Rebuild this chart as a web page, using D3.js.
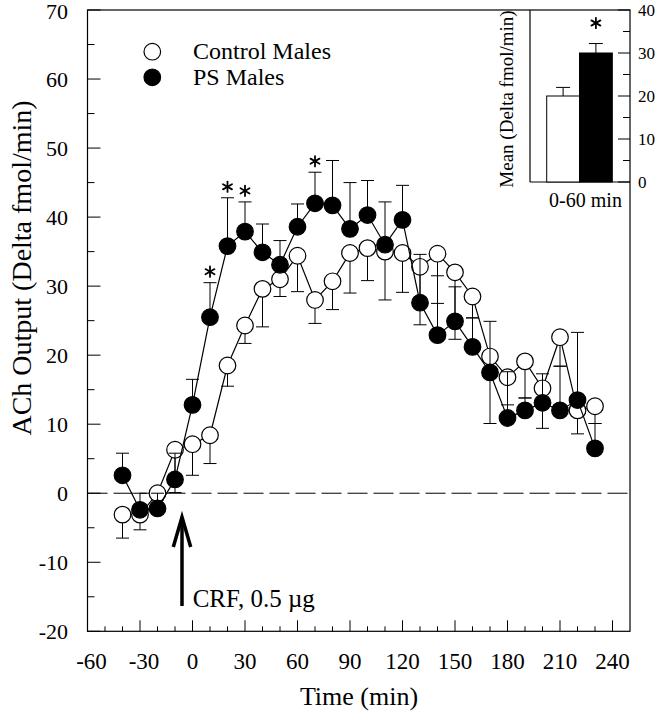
<!DOCTYPE html>
<html><head><meta charset="utf-8">
<script src="https://cdn.jsdelivr.net/npm/d3@7"></script>
<style>
html,body{margin:0;padding:0;background:#fff;}
svg text{font-family:"Liberation Serif","Times New Roman",serif;fill:#000;}
</style></head>
<body><svg id="c" width="658" height="720"></svg>
<script>
// ---- data ----
const times = [-40,-30,-20,-10,0,10,20,30,40,50,60,70,80,90,100,110,120,130,140,150,160,170,180,190,200,210,220,230];
const controlMean = [-3.1,-3.1,0.0,6.3,7.1,8.4,18.5,24.3,29.6,31.0,34.4,28.0,30.7,34.8,35.5,35.0,34.8,32.8,34.7,32.0,28.5,19.8,16.8,19.1,15.2,22.6,12.0,12.6];
const controlErr  = [3.4,2.2,1.0,6.2,4.5,4.1,3.0,2.6,5.5,2.5,5.2,3.4,4.1,5.8,4.7,7.0,5.7,8.4,7.2,9.7,3.1,9.7,4.0,5.3,5.8,4.2,3.4,2.5];
const psMean = [2.6,-2.4,-2.2,2.0,12.8,25.5,35.8,37.9,34.9,33.1,38.6,42.0,41.7,38.3,40.3,36.0,39.6,27.6,22.9,24.9,21.2,17.5,10.9,12.0,13.1,12.0,13.5,6.5];
const psErr  = [3.2,2.4,2.2,3.8,3.7,5.0,7.0,4.3,4.1,3.5,3.3,4.5,6.5,6.7,5.0,6.2,5.0,7.0,8.6,5.0,4.2,7.4,6.7,1.8,4.2,6.4,9.8,3.6];
const sigTimes = [10,20,30,70];
const seriesNames = ["Control Males","PS Males"];
const xTickLabels = [-60,-30,0,30,60,90,120,150,180,210,240];
const yTickLabels = [-20,-10,0,10,20,30,40,50,60,70];
const insetGroups = ["Control","PS"];
const insetMeans = [20,30];
const insetErrs = [2.0,2.2];
const insetTickLabels = [0,10,20,30,40];
const crfTime = -6;

const svg = d3.select("#c");
const x = d3.scaleLinear().domain([-60,250]).range([87.5,630]);
const y = d3.scaleLinear().domain([-20,70]).range([631.3,10]);
const L = 87.5, R = 630, T = 10, B = 631.3;

function star(cx, cy, rad){
  const g = svg.append("g").attr("transform",`translate(${cx},${cy})`);
  [90,30,150].forEach(a=>{
    const dx = rad*Math.cos(a*Math.PI/180), dy = rad*Math.sin(a*Math.PI/180);
    g.append("line").attr("x1",-dx).attr("y1",-dy).attr("x2",dx).attr("y2",dy)
      .attr("stroke","#000").attr("stroke-width",1.8).attr("stroke-linecap","round");
  });
}

// frame
svg.append("rect").attr("x",L).attr("y",T).attr("width",R-L).attr("height",B-T)
  .attr("fill","none").attr("stroke","#000").attr("stroke-width",1.2);

// y ticks (inside)
const yMinor = d3.range(-15,70,5).filter(v=>v%10!==0);
svg.append("g").selectAll("line").data(yTickLabels.concat(yMinor)).join("line")
  .attr("x1",L).attr("x2",d=>L+(d%10===0?13:7)).attr("y1",d=>y(d)).attr("y2",d=>y(d))
  .attr("stroke","#000").attr("stroke-width",1);
svg.append("g").selectAll("text").data(yTickLabels).join("text")
  .attr("x",68).attr("y",d=>y(d)+(d===70?1.5:0)).attr("dy","0.35em").attr("text-anchor","end")
  .attr("font-size",22).text(d=>d);

// x ticks (inside)
const xMinor = d3.range(-50,250,10).filter(v=>v%30!==0);
svg.append("g").selectAll("line").data(xTickLabels.concat(xMinor)).join("line")
  .attr("x1",d=>x(d)).attr("x2",d=>x(d)).attr("y1",B).attr("y2",d=>B-(d%30===0?11:5))
  .attr("stroke","#000").attr("stroke-width",1);
svg.append("g").selectAll("text").data(xTickLabels).join("text")
  .attr("x",d=>x(d)+(d<0?4:0)).attr("y",661).attr("dy","0.35em").attr("text-anchor","middle")
  .attr("font-size",23).text(d=>d);

// axis titles
svg.append("text").attr("transform","translate(21,268) rotate(-90)").attr("text-anchor","middle")
  .attr("dy","0.35em").attr("font-size",28).text("ACh Output (Delta fmol/min)");
svg.append("text").attr("x",359).attr("y",696).attr("dy","0.35em").attr("text-anchor","middle")
  .attr("font-size",26).text("Time (min)");

// zero dashed line
svg.append("line").attr("x1",L).attr("x2",R).attr("y1",y(0)).attr("y2",y(0))
  .attr("stroke","#000").attr("stroke-width",1).attr("stroke-dasharray","20,6");

// series
const ctrl = times.map((t,i)=>({t,m:controlMean[i],e:controlErr[i]}));
const ps = times.map((t,i)=>({t,m:psMean[i],e:psErr[i]}));
const line = d3.line().x(d=>x(d.t)).y(d=>y(d.m));
const cap = 6.5, r = 8.3;

function drawSeries(data, dir, filled){
  const g = svg.append("g");
  g.selectAll("line.e").data(data).join("line").attr("class","e")
    .attr("x1",d=>x(d.t)).attr("x2",d=>x(d.t)).attr("y1",d=>y(d.m)).attr("y2",d=>y(d.m+dir*d.e))
    .attr("stroke","#000").attr("stroke-width",1);
  g.selectAll("line.c").data(data).join("line").attr("class","c")
    .attr("x1",d=>x(d.t)-cap).attr("x2",d=>x(d.t)+cap).attr("y1",d=>y(d.m+dir*d.e)).attr("y2",d=>y(d.m+dir*d.e))
    .attr("stroke","#000").attr("stroke-width",1);
  g.append("path").datum(data).attr("d",line).attr("fill","none").attr("stroke","#000").attr("stroke-width",1.2);
  g.selectAll("circle").data(data).join("circle").attr("cx",d=>x(d.t)).attr("cy",d=>y(d.m)).attr("r",r)
    .attr("fill",filled?"#000":"#fff").attr("stroke","#000").attr("stroke-width",1.2);
}
drawSeries(ctrl,-1,false);
drawSeries(ps,1,true);

// significance asterisks
sigTimes.forEach(t=>{
  const i = times.indexOf(t);
  star(x(t), y(psMean[i]+psErr[i]) - 11, 5.2);
});

// legend
const lg = svg.append("g");
seriesNames.forEach((n,i)=>{
  lg.append("circle").attr("cx",152.3).attr("cy",51.7+i*25.6).attr("r",r)
    .attr("fill",i===0?"#fff":"#000").attr("stroke","#000").attr("stroke-width",1.2);
  lg.append("text").attr("x",193).attr("y",58.5+i*26).attr("font-size",24).text(n);
});

// CRF arrow
const ax = x(crfTime);
svg.append("line").attr("x1",ax).attr("x2",ax).attr("y1",606).attr("y2",519)
  .attr("stroke","#000").attr("stroke-width",3.5);
svg.append("polyline").attr("points",`${ax-8.7},547 ${ax},517 ${ax+8.7},547`)
  .attr("fill","none").attr("stroke","#000").attr("stroke-width",3.5);
svg.append("text").attr("x",192.7).attr("y",607).attr("font-size",25).text("CRF, 0.5 \u00B5g");

// inset
const iy = d3.scaleLinear().domain([0,40]).range([182,10]);
const ix = d3.scaleBand().domain(insetGroups).range([546.7,612.3]).padding(0);
const IL = 530;
svg.append("line").attr("x1",IL).attr("x2",IL).attr("y1",T).attr("y2",iy(0)).attr("stroke","#000").attr("stroke-width",1.2);
svg.append("line").attr("x1",IL).attr("x2",R).attr("y1",iy(0)).attr("y2",iy(0)).attr("stroke","#000").attr("stroke-width",1.2);
const iMinor = [5,15,25,35];
svg.append("g").selectAll("line").data(insetTickLabels.concat(iMinor)).join("line")
  .attr("x1",R).attr("x2",d=>R-(d%10===0?12:7)).attr("y1",d=>iy(d)).attr("y2",d=>iy(d))
  .attr("stroke","#000").attr("stroke-width",1);
svg.append("g").selectAll("text").data(insetTickLabels).join("text")
  .attr("x",638).attr("y",d=>iy(d)).attr("dy","0.35em").attr("font-size",17).text(d=>d);
insetGroups.forEach((g,i)=>{
  const bx = ix(g), bw = ix.bandwidth(), cx = bx+bw/2;
  svg.append("line").attr("x1",cx).attr("x2",cx).attr("y1",iy(insetMeans[i])).attr("y2",iy(insetMeans[i]+insetErrs[i])).attr("stroke","#000");
  svg.append("line").attr("x1",cx-7).attr("x2",cx+7).attr("y1",iy(insetMeans[i]+insetErrs[i])).attr("y2",iy(insetMeans[i]+insetErrs[i])).attr("stroke","#000");
  svg.append("rect").attr("x",bx).attr("y",iy(insetMeans[i])).attr("width",bw).attr("height",iy(0)-iy(insetMeans[i]))
    .attr("fill",i===0?"#fff":"#000").attr("stroke","#000").attr("stroke-width",1);
});
star(ix("PS")+ix.bandwidth()/2, 23, 5.2);
svg.append("text").attr("transform","translate(506,99) rotate(-90)").attr("text-anchor","middle")
  .attr("dy","0.35em").attr("font-size",19).text("Mean (Delta fmol/min)");
svg.append("text").attr("x",585.5).attr("y",207).attr("text-anchor","middle").attr("font-size",20).text("0-60 min");
</script></body></html>
